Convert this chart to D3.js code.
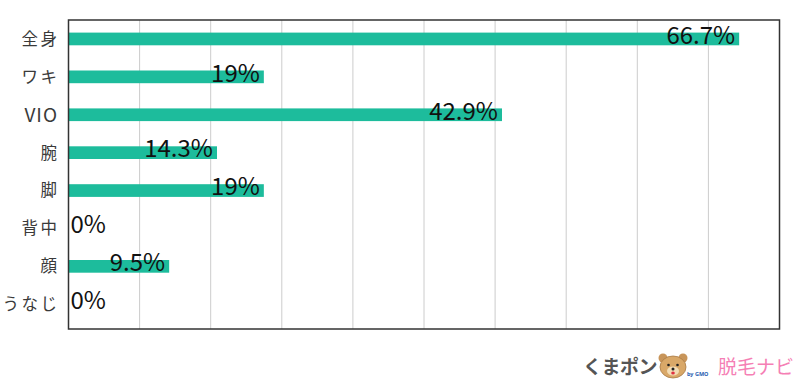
<!DOCTYPE html>
<html><head><meta charset="utf-8">
<script src="https://cdn.jsdelivr.net/npm/d3@7"></script>
<style>body{margin:0;background:#fff}svg{display:block}</style>
</head><body>
<script>
const categories = ["全身","ワキ","VIO","腕","脚","背中","顔","うなじ"];
const values = [66.7, 19, 42.9, 14.3, 19, 0, 9.5, 0];
const valueLabels = ["66.7%","19%","42.9%","14.3%","19%","0%","9.5%","0%"];
const gridCount = 10;

const W = 800, H = 379;
const L = 68.5, R = 779.5, T = 20, B = 329;
const svg = d3.select("body").append("svg").attr("width", W).attr("height", H);

const x = d3.scaleLinear().domain([0, 71.4]).range([L + 6, L + 6 + 711.5]);
const gx = d3.scaleLinear().domain([0, gridCount]).range([L, R]);
const y = d3.scaleBand().domain(categories).range([T, 323.2]).paddingInner(0.665).paddingOuter(0.3325);

svg.append("g").selectAll("line").data(d3.range(1, gridCount)).join("line")
  .attr("x1", d => gx(d)).attr("x2", d => gx(d)).attr("y1", T).attr("y2", B)
  .attr("stroke", "#cccccc").attr("stroke-width", 1);

svg.append("g").selectAll("rect").data(values.map((v,i)=>({v,i}))).join("rect")
  .filter(d => d.v > 0)
  .attr("x", L).attr("y", d => y(categories[d.i]))
  .attr("width", d => x(d.v) - L).attr("height", y.bandwidth())
  .attr("fill", "#1dbc9c");

svg.append("rect").attr("x", L).attr("y", T).attr("width", R - L).attr("height", B - T)
  .attr("fill", "none").attr("stroke", "#333").attr("stroke-width", 1.5);

const isAscii = d => /^[\x00-\x7f]+$/.test(d);
svg.append("g").selectAll("text").data(categories).join("text")
  .attr("x", d => isAscii(d) ? 58 : 59.5).attr("y", d => y(d) + y.bandwidth()/2)
  .attr("dy", "0.36em").attr("text-anchor", "end")
  .attr("font-family", "'Noto Sans CJK JP', 'Noto Sans', sans-serif")
  .attr("font-size", d => isAscii(d) ? 19 : 16.5)
  .attr("letter-spacing", d => isAscii(d) ? 1 : 2.5)
  .attr("fill", "#3a3a3a").text(d => d);

svg.append("g").selectAll("text").data(values.map((v,i)=>({v,i}))).join("text")
  .attr("x", d => d.v > 0 ? x(d.v) - 4 : L + 2)
  .attr("y", d => y(categories[d.i]) + y.bandwidth() - 1.5)
  .attr("text-anchor", d => d.v > 0 ? "end" : "start")
  .attr("font-family", "'Noto Sans CJK JP', 'Noto Sans', sans-serif")
  .attr("font-size", 24).attr("fill", "#111").text(d => valueLabels[d.i]);

const logo = svg.append("g");
logo.append("text").attr("x", 583).attr("y", 374)
  .attr("font-family", "'Noto Sans CJK JP', sans-serif").attr("font-weight", "bold")
  .attr("font-size", 19).attr("fill", "#555").attr("letter-spacing", -0.5).text("くまポン");
const bear = logo.append("g").attr("transform", "translate(673,367)");
bear.append("circle").attr("cx", -10).attr("cy", -9).attr("r", 4.5).attr("fill", "#c8955a");
bear.append("circle").attr("cx", 10).attr("cy", -9).attr("r", 4.5).attr("fill", "#c8955a");
bear.append("ellipse").attr("cx", 0).attr("cy", 0).attr("rx", 13).attr("ry", 11).attr("fill", "#d9a868").attr("stroke", "#a87a45").attr("stroke-width", 0.8);
bear.append("ellipse").attr("cx", 0).attr("cy", 4).attr("rx", 6).attr("ry", 4.5).attr("fill", "#f3dcb4");
bear.append("circle").attr("cx", -4.5).attr("cy", -2).attr("r", 1.3).attr("fill", "#222");
bear.append("circle").attr("cx", 4.5).attr("cy", -2).attr("r", 1.3).attr("fill", "#222");
bear.append("circle").attr("cx", 0).attr("cy", 2).attr("r", 1.5).attr("fill", "#222");
bear.append("ellipse").attr("cx", 0).attr("cy", 6).attr("rx", 1.8).attr("ry", 1.5).attr("fill", "#e03040");
logo.append("text").attr("x", 687).attr("y", 376)
  .attr("font-family", "'Noto Sans', sans-serif").attr("font-weight", "bold")
  .attr("font-size", 5.5).attr("fill", "#2a5db0").text("by GMO");
logo.append("text").attr("x", 718).attr("y", 374)
  .attr("font-family", "'Noto Sans CJK JP', sans-serif")
  .attr("font-size", 19).attr("fill", "#f57fb5").text("脱毛ナビ");
</script>
</body></html>
